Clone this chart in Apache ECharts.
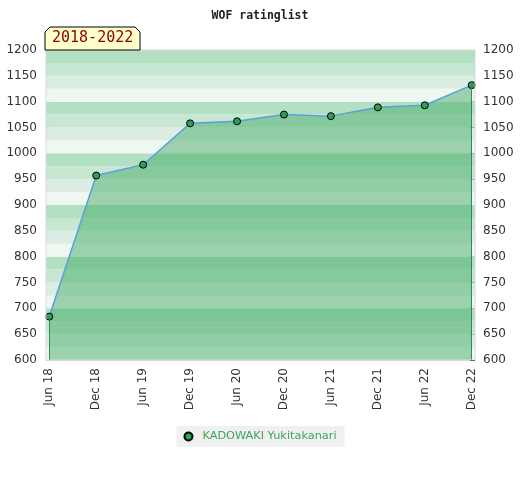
<!DOCTYPE html>
<html><head><meta charset="utf-8">
<script src="https://cdn.jsdelivr.net/npm/echarts@6/dist/echarts.min.js"></script>
<style>html,body{margin:0;padding:0;background:#fff}#c{width:520px;height:480px}</style>
</head><body><div id="c"></div>
<script>
const categories = ['Jun 18','Dec 18','Jun 19','Dec 19','Jun 20','Dec 20','Jun 21','Dec 21','Jun 22','Dec 22'];
const ratings = [684, 957, 978, 1058, 1062, 1075, 1072, 1089, 1093, 1132];
const playerName = 'KADOWAKI Yukitakanari';
const periodLabel = '2018-2022';
const yMin = 600, yMax = 1200, yStep = 50, bandStep = 25;
const bandColors = ['#b3dfc3', '#c7e7d3', '#dceee3', '#eef7f2'];

const bands = [];
for (let lo = yMin; lo < yMax; lo += bandStep) {
  const k = ((yMax - (lo + bandStep)) / bandStep) % 4;
  bands.push([{ yAxis: lo, itemStyle: { color: bandColors[k], opacity: 1 } }, { yAxis: lo + bandStep }]);
}
const last = ratings.length - 1;

const chart = echarts.init(document.getElementById('c'));
chart.setOption({
  animation: false,
  title: {
    text: 'WOF ratinglist', left: 'center', top: 5,
    textStyle: { fontFamily: 'DejaVu Sans Mono', fontWeight: 'bold', fontSize: 11.5, color: '#222' }
  },
  grid: { left: 46, right: 45, top: 50, bottom: 120, show: true, borderColor: '#d8d8d8', borderWidth: 1, z: 10, backgroundColor: 'transparent' },
  xAxis: {
    type: 'value', min: -0.07, max: last + 0.07,
    axisLine: { show: true, lineStyle: { color: '#d8d8d8' } },
    axisTick: { show: false },
    splitLine: { show: false },
    axisLabel: {
      customValues: categories.map((c, i) => i),
      formatter: v => categories[Math.round(v)],
      rotate: 90, color: '#333', fontSize: 12, fontFamily: 'DejaVu Sans', margin: 8
    }
  },
  yAxis: [
    {
      type: 'value', min: yMin, max: yMax, interval: yStep, position: 'left',
      axisLine: { show: true, lineStyle: { color: '#d8d8d8' } },
      axisTick: { show: false }, splitLine: { show: false },
      axisLabel: { color: '#333', fontSize: 12, fontFamily: 'DejaVu Sans', margin: 9, formatter: v => String(v) }
    },
    {
      type: 'value', min: yMin, max: yMax, interval: yStep, position: 'right',
      axisLine: { show: false },
      axisTick: { show: true, inside: true, length: 5, lineStyle: { color: '#000' } },
      minorTick: { show: true, splitNumber: 5, length: 3, lineStyle: { color: '#000' } },
      splitLine: { show: false },
      axisLabel: { color: '#333', fontSize: 12, fontFamily: 'DejaVu Sans', margin: 8, formatter: v => String(v) }
    }
  ],
  legend: {
    bottom: 33, left: 'center',
    backgroundColor: '#f0f0f0', padding: [5, 8, 5, 7],
    icon: 'circle', itemWidth: 8, itemHeight: 8,
    textStyle: { color: '#3aa65c', fontSize: 11.3, fontFamily: 'DejaVu Sans', padding: [0, 0, 0, 5] },
    data: [playerName]
  },
  series: [
    {
      type: 'line', name: '_bands', data: [], z: 0, silent: true,
      markArea: { silent: true, data: bands }
    },
    {
      type: 'line', name: playerName, z: 3,
      data: ratings.map((v, i) => [i, v]),
      symbol: 'circle', symbolSize: 7,
      itemStyle: { color: '#2e9e5b', borderColor: '#000', borderWidth: 1 },
      lineStyle: { color: '#5aa0d8', width: 1.5 },
      areaStyle: { color: 'rgb(62,168,95)', opacity: 0.47, origin: 'start' },
      markLine: {
        silent: true, symbol: 'none', label: { show: false },
        lineStyle: { color: '#2e8b57', width: 1, type: 'solid' },
        data: [
          [{ coord: [0, ratings[0]] }, { coord: [0, yMin] }],
          [{ coord: [last, ratings[last]] }, { coord: [last, yMin] }]
        ]
      }
    }
  ],
  graphic: [
    {
      type: 'polygon', z: 20,
      shape: { points: [[45, 50], [45, 32], [50, 27], [135, 27], [140, 32], [140, 50]] },
      style: { fill: '#ffffcc', stroke: '#000', lineWidth: 1 }
    },
    {
      type: 'text', z: 21, x: 52, y: 31,
      style: { text: periodLabel, fill: '#8b0000', font: '15px "DejaVu Sans Mono"' }
    }
  ]
});
</script></body></html>
